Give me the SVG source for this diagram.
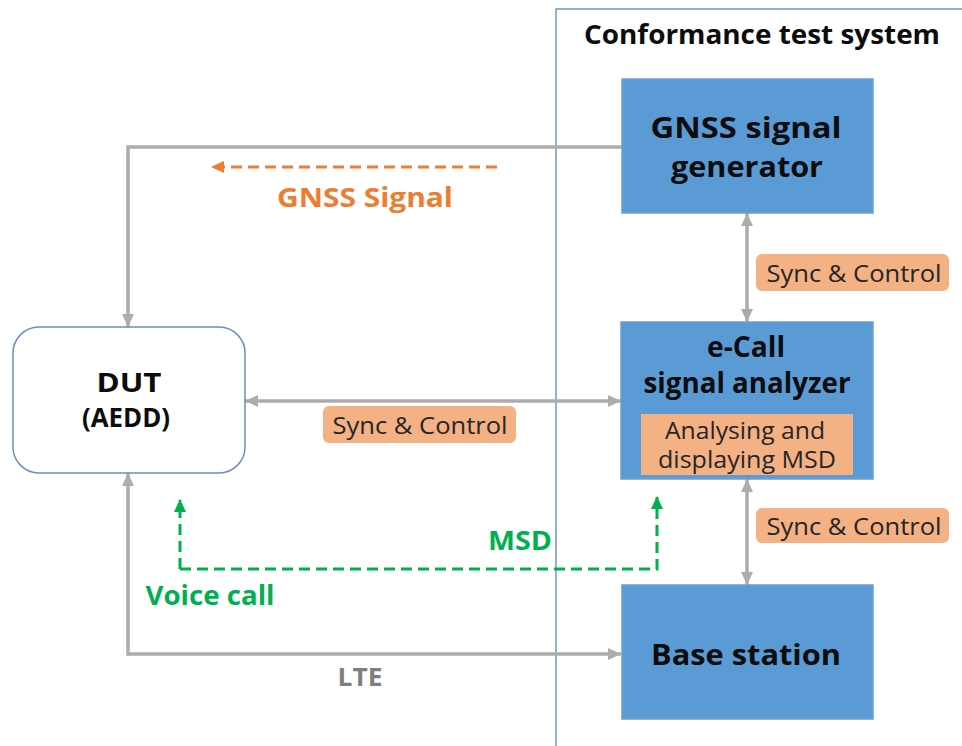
<svg xmlns="http://www.w3.org/2000/svg" width="962" height="746" viewBox="0 0 962 746">
<defs>
<style>
.box{fill:#5b9bd5;stroke:#6d9fd0;stroke-width:1.5}
.lbl{fill:#f4b183;stroke:none}
.t{font-family:"Open Sans","Noto Sans","Liberation Sans",sans-serif;text-anchor:middle}
.b{font-weight:bold}
.blk{fill:#0d0d0d}
.sc{font-size:23px;fill:#262626}
.gray{fill:none;stroke:#afabab;stroke-width:3.5}
.or{fill:none;stroke:#ed7d31;stroke-width:3;stroke-dasharray:11,6}
.gr{fill:none;stroke:#00b050;stroke-width:3;stroke-dasharray:11,6}
</style>
<marker id="ag" markerUnits="userSpaceOnUse" markerWidth="14" markerHeight="12" refX="13" refY="6" orient="auto-start-reverse"><path d="M0,0 L13,6 L0,12 z" fill="#afabab"/></marker>
<marker id="ao" markerUnits="userSpaceOnUse" markerWidth="14" markerHeight="12" refX="12" refY="6" orient="auto"><path d="M0,0 L13,6 L0,12 z" fill="#ed7d31"/></marker>
<marker id="agr" markerUnits="userSpaceOnUse" markerWidth="14" markerHeight="12" refX="12" refY="6" orient="auto"><path d="M0,0 L13,6 L0,12 z" fill="#00b050"/></marker>
</defs>
<rect width="962" height="746" fill="#ffffff"/>
<g id="frame">
<path d="M556,746 V9 H962" fill="none" stroke="#7397c0" stroke-width="1.5"/>
<text class="t b blk" x="762" y="44" font-size="26" textLength="356" lengthAdjust="spacingAndGlyphs">Conformance test system</text>
</g>
<g id="connectors">
<path class="gray" d="M622,147 H128 V327" marker-end="url(#ag)"/>
<path class="or" d="M497,167 H212" marker-end="url(#ao)"/>
<line class="gray" x1="747" y1="213" x2="747" y2="322" marker-start="url(#ag)" marker-end="url(#ag)"/>
<line class="gray" x1="245" y1="401" x2="621" y2="401" marker-start="url(#ag)" marker-end="url(#ag)"/>
<line class="gray" x1="747" y1="479" x2="747" y2="585" marker-start="url(#ag)" marker-end="url(#ag)"/>
<path class="gray" d="M128,473 V654 H621" marker-start="url(#ag)" marker-end="url(#ag)"/>
<path class="gr" d="M180,569 V500" marker-end="url(#agr)"/>
<path class="gr" d="M180,569 H657 V497" marker-end="url(#agr)"/>
</g>
<g id="label-gnss-signal"><text class="t b" x="365" y="207" font-size="26" fill="#ed7d31" textLength="176" lengthAdjust="spacingAndGlyphs">GNSS Signal</text></g>
<g id="label-msd"><text class="t b" x="520" y="550" font-size="26" fill="#00b050" textLength="64" lengthAdjust="spacingAndGlyphs">MSD</text></g>
<g id="label-voice"><text class="t b" x="210" y="605" font-size="26" fill="#00b050" textLength="129" lengthAdjust="spacingAndGlyphs">Voice call</text></g>
<g id="label-lte"><text class="t b" x="360" y="686" font-size="25" fill="#7f7f7f" textLength="45" lengthAdjust="spacingAndGlyphs">LTE</text></g>
<g id="sync1"><rect class="lbl" x="756" y="254" width="193" height="37" rx="6"/><text class="t sc" x="854" y="282" textLength="175" lengthAdjust="spacingAndGlyphs">Sync &amp; Control</text></g>
<g id="sync2"><rect class="lbl" x="323" y="406" width="193" height="37" rx="6"/><text class="t sc" x="420" y="434" textLength="175" lengthAdjust="spacingAndGlyphs">Sync &amp; Control</text></g>
<g id="sync3"><rect class="lbl" x="756" y="508" width="193" height="35" rx="6"/><text class="t sc" x="854" y="535" textLength="175" lengthAdjust="spacingAndGlyphs">Sync &amp; Control</text></g>
<g id="gnss-gen">
<rect class="box" x="622" y="79" width="251" height="134"/>
<text class="t b blk" x="746" y="138" font-size="29" textLength="191" lengthAdjust="spacingAndGlyphs">GNSS signal</text>
<text class="t b blk" x="747" y="177" font-size="29" textLength="152" lengthAdjust="spacingAndGlyphs">generator</text>
</g>
<g id="ecall">
<rect class="box" x="621" y="322" width="252" height="157"/>
<text class="t b blk" x="746" y="357" font-size="28" textLength="78" lengthAdjust="spacingAndGlyphs">e-Call</text>
<text class="t b blk" x="747" y="393" font-size="28" textLength="207" lengthAdjust="spacingAndGlyphs">signal analyzer</text>
<rect class="lbl" x="641" y="414" width="212" height="61"/>
<text class="t sc" x="745" y="439" textLength="160" lengthAdjust="spacingAndGlyphs">Analysing and</text>
<text class="t sc" x="747" y="468" textLength="178" lengthAdjust="spacingAndGlyphs">displaying MSD</text>
</g>
<g id="base-station">
<rect class="box" x="622" y="585" width="251" height="134"/>
<text class="t b blk" x="746" y="665" font-size="29" textLength="190" lengthAdjust="spacingAndGlyphs">Base station</text>
</g>
<g id="dut">
<rect x="13" y="327" width="232" height="146" rx="26" fill="#ffffff" stroke="#6d8fb8" stroke-width="1.5"/>
<text class="t b blk" x="129" y="392" font-size="27" textLength="65" lengthAdjust="spacingAndGlyphs">DUT</text>
<text class="t b blk" x="126" y="427" font-size="26" textLength="88" lengthAdjust="spacingAndGlyphs">(AEDD)</text>
</g>
</svg>
